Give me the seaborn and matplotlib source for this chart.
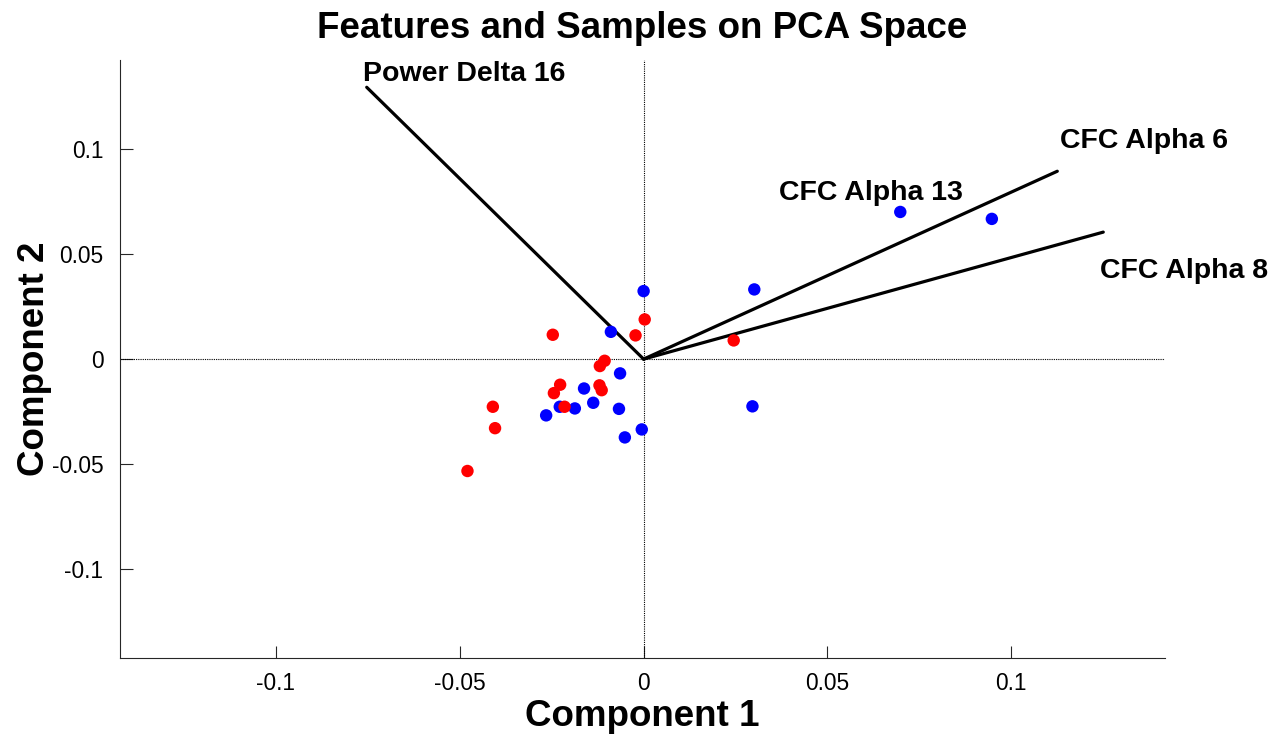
import matplotlib
matplotlib.use("Agg")
import matplotlib.pyplot as plt
import seaborn as sns
import pandas as pd

# ---- data ----
blue_x = [-0.0089, -0.0064, -0.0162, -0.0137, -0.0187, -0.0228, -0.0265, -0.0067,
          -0.0051, -0.0005, 0.0000, 0.0301, 0.0698, 0.0947, 0.0296]
blue_y = [0.0130, -0.0068, -0.0140, -0.0208, -0.0235, -0.0227, -0.0268, -0.0237,
          -0.0373, -0.0335, 0.0324, 0.0332, 0.0701, 0.0668, -0.0225]
red_x = [0.0003, -0.0022, -0.0247, -0.0106, -0.0119, -0.0227, -0.0244, -0.0120,
         -0.0114, -0.0215, -0.0410, -0.0404, -0.0479, 0.0245]
red_y = [0.0189, 0.0113, 0.0116, -0.0008, -0.0033, -0.0122, -0.0162, -0.0125,
         -0.0148, -0.0227, -0.0227, -0.0329, -0.0533, 0.0089]

vec_x = [-0.0753, 0.1125, 0.1250]
vec_y = [0.1295, 0.0895, 0.0605]

label_names = ["Power Delta 16", "CFC Alpha 6", "CFC Alpha 13", "CFC Alpha 8"]
label_x = [-0.0764, 0.1133, 0.0367, 0.1242]
label_y = [0.1324, 0.1005, 0.0757, 0.0386]

tick_vals = [-0.1, -0.05, 0, 0.05, 0.1]
tick_labels = ["-0.1", "-0.05", "0", "0.05", "0.1"]

df = pd.DataFrame({
    "x": blue_x + red_x,
    "y": blue_y + red_y,
    "group": ["A"] * len(blue_x) + ["B"] * len(red_x),
})

sns.set_style("white")
plt.rcParams["font.family"] = ["Liberation Sans", "DejaVu Sans"]
plt.rcParams["text.color"] = "black"
plt.rcParams["axes.labelcolor"] = "black"
plt.rcParams["axes.titlecolor"] = "black"

fig = plt.figure(figsize=(12.79, 7.34), dpi=100)
ax = fig.add_axes([0.0938, 0.1035, 0.8171, 0.8145])

ax.set_xlim(-0.1424, 0.1418)
ax.set_ylim(-0.1424, 0.1424)

# reference axes lines (dotted)
ax.axhline(0, color="black", lw=0.8, ls=(0, (1, 1)), zorder=1)
ax.axvline(0, color="black", lw=0.8, ls=(0, (1, 1)), zorder=1)

# feature vectors
for vx, vy in zip(vec_x, vec_y):
    ax.plot([0, vx], [0, vy], color="black", lw=2.3, solid_capstyle="round", zorder=2)

# samples
sns.scatterplot(data=df, x="x", y="y", hue="group",
                palette={"A": "#0000FF", "B": "#FF0000"},
                s=80, edgecolor="none", legend=False, ax=ax, zorder=3)

for name, lx, ly in zip(label_names, label_x, label_y):
    ax.text(lx, ly, name, fontsize=20.5, fontweight="bold", ha="left",
            va="baseline", color="black", zorder=4)

ax.set_xticks(tick_vals)
ax.set_xticklabels(tick_labels)
ax.set_yticks(tick_vals)
ax.set_yticklabels(tick_labels)
ax.tick_params(direction="in", length=9, width=0.8, labelsize=16.4,
               colors="#262626", labelcolor="black",
               bottom=True, left=True)
ax.tick_params(axis="x", pad=10)
ax.tick_params(axis="y", pad=12)

for side in ["top", "right"]:
    ax.spines[side].set_visible(False)
for side in ["left", "bottom"]:
    ax.spines[side].set_color("#262626")
    ax.spines[side].set_linewidth(0.8)

ax.set_xlabel("Component 1", fontsize=26.5, fontweight="bold", labelpad=3)
ax.set_ylabel("Component 2", fontsize=26.5, fontweight="bold", labelpad=0)
ax.set_title("Features and Samples on PCA Space", fontsize=26.5,
             fontweight="bold", pad=16)

fig.savefig("out.png", dpi=100)
